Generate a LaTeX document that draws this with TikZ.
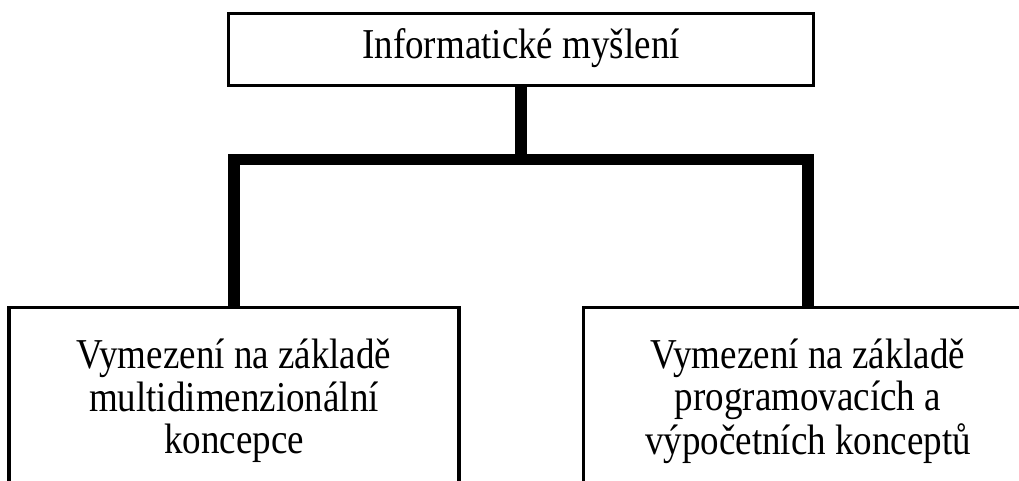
\documentclass[tikz,border=0pt]{standalone}
\usepackage{fontspec}
\usepackage{graphicx}
\setmainfont{Liberation Serif}
% slightly tall lettering, lines centred
\newcommand{\tallcell}[1]{\scalebox{1}[1.15]{\begin{tabular}{@{}c@{}}#1\end{tabular}}}
\begin{document}
\begin{tikzpicture}[x=1pt,y=-1pt,
  box/.style={draw=black,line width=3.2pt,rectangle,inner sep=0pt,
    font=\fontsize{37}{37}\selectfont},
  bar/.style={draw=black,line width=11.5pt,line join=miter,line cap=butt}]
  \useasboundingbox (0,0) rectangle (1019,481);
  % title box
  \node[box,minimum width=585pt,minimum height=72pt] (top) at (521,49.5)
    {\tallcell{Informatické myšlení}};
  % two branches, cut by the lower page edge
  \node[box,minimum width=450pt,minimum height=190pt] (left) at (234,402.75)
    {\tallcell{Vymezení na základě\\multidimenzionální\\koncepce}};
  \node[box,minimum width=449pt,minimum height=190pt] (right) at (808,402.75)
    {\tallcell{Vymezení na základě\\programovacích a\\výpočetních konceptů}};
  % thick tree connectors
  \coordinate (split) at (521,159.5);
  \draw[bar] (top.south) -- (split);
  \draw[bar] (left.north) |- (split) -| (right.north);
\end{tikzpicture}
\end{document}
